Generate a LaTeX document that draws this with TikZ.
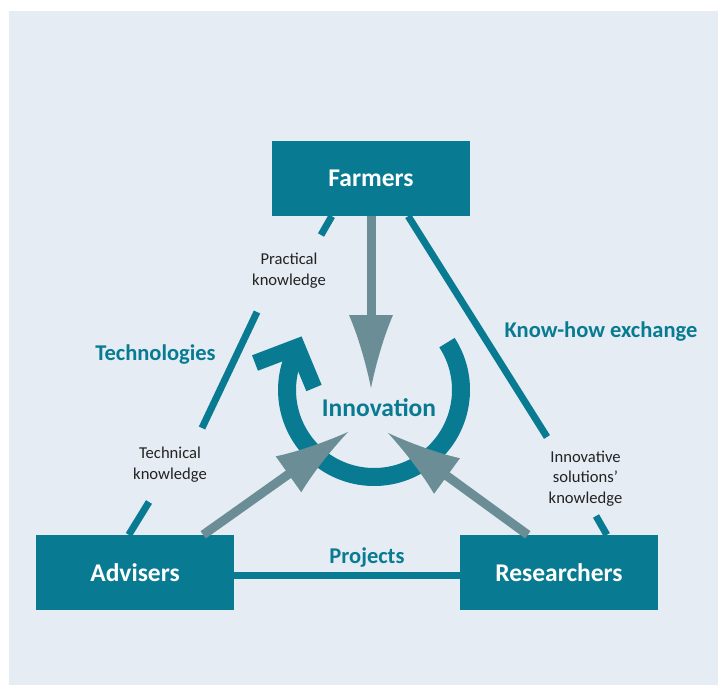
\documentclass[tikz,border=0pt]{standalone}
\usepackage{fontspec}
\setmainfont{Carlito}
\usetikzlibrary{calc}

\definecolor{boxteal}{RGB}{8,123,146}
\definecolor{flowgray}{RGB}{107,141,149}
\definecolor{panelbg}{RGB}{229,236,243}
\definecolor{labeltext}{RGB}{35,35,35}

\begin{document}
\begin{tikzpicture}[x=1pt, y=-1pt]
    % Define styles
    \tikzset{
        actor/.style={
            rectangle,
            fill=boxteal,
            text=white,
            minimum width=198pt,
            minimum height=75pt,
            inner sep=0pt,
            font=\fontsize{25.5}{30}\selectfont\bfseries
        },
        link/.style={
            boxteal,
            line width=7pt
        },
        flow/.style={
            flowgray,
            line width=9pt
        },
        ring/.style={
            boxteal,
            line width=18pt
        },
        topic/.style={
            text=boxteal,
            font=\fontsize{22.5}{26}\selectfont\bfseries,
            anchor=base
        },
        note/.style={
            text=labeltext,
            align=center,
            font=\fontsize{16.6}{20.5}\selectfont,
            anchor=base
        },
        grayhead/.pic={
            \fill[flowgray] (0,0) .. controls (-20,4) and (-50,12) .. (-73,22)
                -- (-73,-22) .. controls (-50,-12) and (-20,-4) .. (0,0) -- cycle;
        }
    }

    % Background panel
    \useasboundingbox (0,0) rectangle (718,685);
    \fill[panelbg] (9,11) rectangle (718,685);

    % Actors
    \node[actor] (farmers) at (371,178.5) {Farmers};
    \node[actor] (advisers) at (135,572.5) {Advisers};
    \node[actor] (researchers) at (559,572.5) {Researchers};

    % Links between the actors, broken by their labels
    \coordinate (techA) at (321,235);
    \coordinate (techB) at (257,312);
    \coordinate (techC) at (202,428);
    \coordinate (techD) at (149,502);
    \draw[link] ([xshift=60pt]farmers.south west) -- (techA);
    \draw[link] (techB) -- (techC);
    \draw[link] (techD) -- ([xshift=93pt]advisers.north west);

    \coordinate (knowA) at (547,437);
    \coordinate (knowB) at (596,516);
    \draw[link] ([xshift=-62pt]farmers.south east) -- (knowA);
    \draw[link] (knowB) -- ([xshift=147pt]researchers.north west);

    \draw[link] ([yshift=-2.5pt]advisers.east) -- ([yshift=-2.5pt]researchers.west);

    % Innovation cycle
    \coordinate (hub) at (374,390);
    \draw[ring] (hub) ++(-33:87) arc[start angle=-33, end angle=202, radius=87];
    \draw[ring, line width=16.5pt, line join=miter] (255,363) -- (297,347) -- (314,388);
    \node[text=boxteal, font=\fontsize{25.5}{30}\selectfont\bfseries, anchor=base]
        (innovation) at (379,416) {Innovation};

    % Contributions flowing into the cycle
    \coordinate (tipF) at (371,388);
    \coordinate (tipA) at (348,432);
    \coordinate (tipR) at (388,433);
    \coordinate (fromA) at ([xshift=-31pt]advisers.north east);
    \coordinate (fromR) at ([xshift=68pt]researchers.north west);
    \draw[flow] (farmers.south) -- ($(tipF)!72pt!(farmers.south)$);
    \draw[flow] (fromA) -- ($(tipA)!72pt!(fromA)$);
    \draw[flow] (fromR) -- ($(tipR)!72pt!(fromR)$);
    \pic[rotate=-90] at (tipF) {grayhead};
    \pic[rotate=35.4] at (tipA) {grayhead};
    \pic[rotate=143.9] at (tipR) {grayhead};

    % Labels
    \node[topic] (technologies) at (155.5,360) {Technologies};
    \node[topic] (knowhow) at (601,337) {Know-how exchange};
    \node[topic] (projects) at (367,563) {Projects};
    \node[note] (practical) at (289,285) {Practical\\knowledge};
    \node[note] (technical) at (170,479) {Technical\\knowledge};
    \node[note] (solutions) at (585.5,503) {Innovative\\solutions'\\knowledge};
\end{tikzpicture}
\end{document}
